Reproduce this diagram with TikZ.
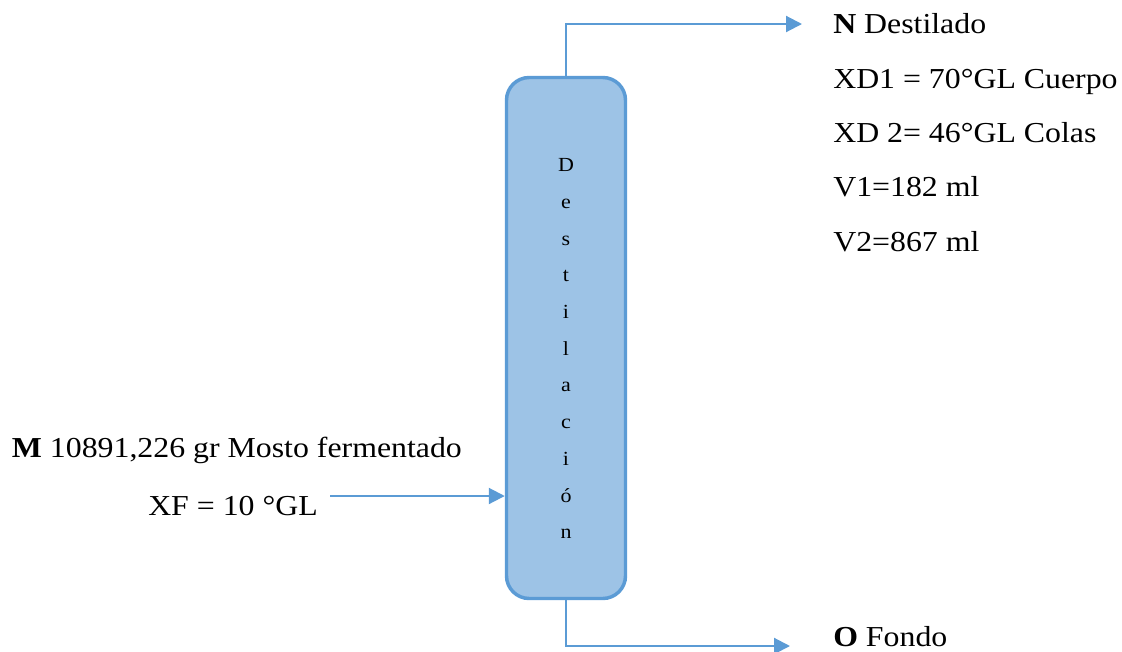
\documentclass[tikz,border=0pt]{standalone}
\usepackage{fontspec}
\setmainfont{Liberation Serif}[FakeStretch=1.1]
\usetikzlibrary{arrows.meta}
\definecolor{colfill}{HTML}{9DC3E6}
\definecolor{coledge}{HTML}{5B9BD5}
\tikzset{
  columnbox/.style={draw=coledge, fill=colfill, line width=2.6pt, rounded corners=17pt,
    minimum width=89.25pt, minimum height=390.75pt, inner sep=0pt},
  flow/.style={draw=coledge, line width=1.6pt, -{Triangle[length=12pt,width=12pt]}},
  lbl/.style={anchor=base west, inner sep=0pt, font=\fontsize{21.7}{25}\selectfont},
  colletter/.style={anchor=base, inner sep=0pt, font=\fontsize{15}{16}\selectfont}
}
\begin{document}
\begin{tikzpicture}[x=0.75pt, y=-0.75pt]
\useasboundingbox (0,0) rectangle (1122,651);
\node[columnbox] (col) at (566,338) {};
\foreach \l [count=\i from 0] in {D,e,s,t,i,l,a,c,i,ó,n}
  \node[colletter, name=L\i] at (566,171.7+36.7*\i) {\l};
\coordinate (tipN) at (802,24);
\coordinate (tipO) at (790,646);
\coordinate (feedstart) at (330,496);
\draw[flow] (col.north) |- (tipN);
\draw[flow] (col.south) |- (tipO);
\draw[flow] (feedstart) -- (col.west |- feedstart);
\node[lbl] (n1) at (833,33) {\textbf{N} Destilado};
\node[lbl] (n2) at (833,88) {XD1 = 70°GL Cuerpo};
\node[lbl] (n3) at (833,142) {XD 2= 46°GL Colas};
\node[lbl] (n4) at (833,196) {V1=182 ml};
\node[lbl] (n5) at (833,251) {V2=867 ml};
\node[lbl] (m1) at (11.7,457) {\textbf{M} 10891,226 gr Mosto fermentado};
\node[lbl] (m2) at (148,515) {XF = 10 °GL};
\node[lbl] (o1) at (833,646) {\textbf{O} Fondo};
\end{tikzpicture}
\end{document}
